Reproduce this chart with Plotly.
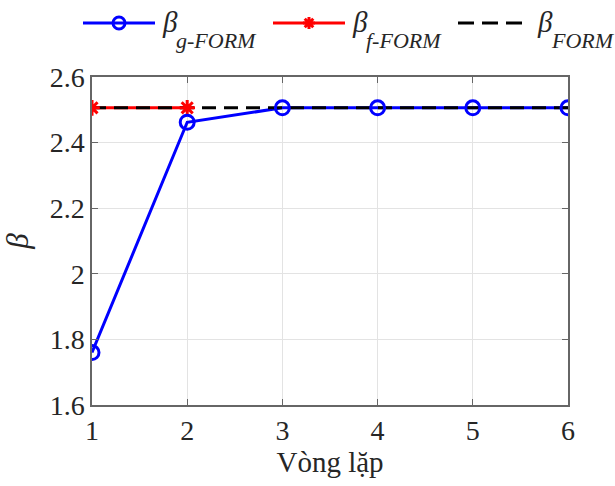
import plotly.graph_objects as go

iterations = [1, 2, 3, 4, 5, 6]
beta_g_form = [1.76, 2.462, 2.506, 2.506, 2.506, 2.506]
iter_f = [1, 2]
beta_f_form = [2.506, 2.506]
beta_form = [2.506] * 6
x_ticks = [1, 2, 3, 4, 5, 6]
y_ticks = [1.6, 1.8, 2.0, 2.2, 2.4, 2.6]
y_tick_labels = ["1.6", "1.8", "2", "2.2", "2.4", "2.6"]
legend_subs = ["g-FORM", "f-FORM", "FORM"]

FONT = "Liberation Serif, Times New Roman, serif"
TXT = "#262626"
BLUE, RED, BLACK = "#0000ff", "#ff0000", "#000000"
DASH = "14px,8px"

W, H = 615, 486
L, R, T, B = 92, 47, 77, 81
PW, PH = W - L - R, H - T - B


def px(xp):
    return (xp - L) / PW


def py(yp):
    return (T + PH - yp) / PH


fig = go.Figure()
fig.add_trace(go.Scatter(x=iterations, y=beta_g_form, mode="lines",
    line=dict(color=BLUE, width=3), showlegend=False))
fig.add_trace(go.Scatter(x=iter_f, y=beta_f_form, mode="lines",
    line=dict(color=RED, width=3), showlegend=False))
fig.add_trace(go.Scatter(x=iterations, y=beta_form, mode="lines",
    line=dict(color=BLACK, width=3, dash=DASH), showlegend=False))
fig.add_trace(go.Scatter(x=iter_f, y=beta_f_form, mode="markers", showlegend=False,
    marker=dict(symbol="asterisk-open", size=13, color=RED, line=dict(width=3, color=RED))))
fig.add_trace(go.Scatter(x=iterations, y=beta_g_form, mode="markers", showlegend=False,
    marker=dict(symbol="circle-open", size=14, color=BLUE, line=dict(width=3))))

axis_common = dict(showline=True, linecolor="#666666", linewidth=1.5, mirror="ticks",
    ticks="inside", ticklen=6, tickcolor="#666666", showgrid=True, gridcolor="#e3e3e3",
    gridwidth=1, zeroline=False, automargin=False,
    tickfont=dict(family=FONT, size=28, color=TXT))

fig.update_xaxes(range=[1, 6], tickvals=x_ticks,
    title=dict(text="Vòng lặp", font=dict(family=FONT, size=29, color=TXT), standoff=6),
    **axis_common)
fig.update_yaxes(range=[1.6, 2.6], tickvals=y_ticks, ticktext=y_tick_labels,
    title=dict(text="<i>β</i>", font=dict(family=FONT, size=31, color=TXT), standoff=24),
    **axis_common)

# ---- custom legend (top) ----
shapes = []
annotations = []
LY = 23
ly = py(LY)
entries = [  # (line start, line end, colour, dash, beta x)
    (83, 155, BLUE, None, 160),
    (273, 345, RED, None, 350),
    (458, 522, BLACK, "16px,8px", 535),
]
for (x0, x1, col, dash, bx), sub in zip(entries, legend_subs):
    ln = dict(color=col, width=3)
    if dash:
        ln["dash"] = dash
    shapes.append(dict(type="line", xref="paper", yref="paper",
                       x0=px(x0), x1=px(x1), y0=ly, y1=ly, line=ln))
    annotations.append(dict(xref="paper", yref="paper", x=px(bx), y=py(22),
        xanchor="left", yanchor="middle", showarrow=False,
        text="<i>β</i>", font=dict(family=FONT, size=29, color=TXT)))
    annotations.append(dict(xref="paper", yref="paper", x=px(bx + 14), y=py(40),
        xanchor="left", yanchor="middle", showarrow=False,
        text=f"<i>{sub}</i>", font=dict(family=FONT, size=22, color=TXT)))

# legend glyph markers
cx, r = 119, 6
shapes.append(dict(type="circle", xref="paper", yref="paper",
    x0=px(cx - r), x1=px(cx + r), y0=py(LY + r), y1=py(LY - r),
    line=dict(color=BLUE, width=3)))
sx, s, d = 309, 6, 4.3
segs = [((-s, 0), (s, 0)), ((0, -s), (0, s)), ((-d, -d), (d, d)), ((-d, d), (d, -d))]
path = " ".join(
    f"M {px(sx + a[0]):.5f} {py(LY + a[1]):.5f} L {px(sx + b[0]):.5f} {py(LY + b[1]):.5f}"
    for a, b in segs)
shapes.append(dict(type="path", xref="paper", yref="paper", path=path,
    line=dict(color=RED, width=3)))

fig.update_layout(
    width=W, height=H,
    margin=dict(l=L, r=R, t=T, b=B, autoexpand=False),
    plot_bgcolor="white", paper_bgcolor="white",
    showlegend=False,
    shapes=shapes, annotations=annotations,
)

fig.write_html("out.html", config={"displayModeBar": False},
               post_script="document.body.style.margin='0';")
